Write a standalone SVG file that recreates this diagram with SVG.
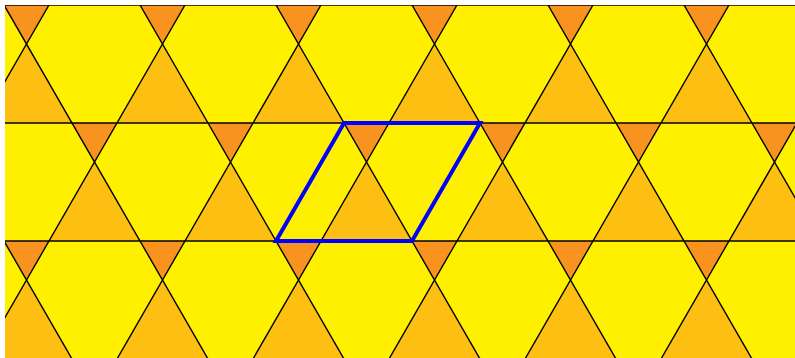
<svg xmlns="http://www.w3.org/2000/svg" width="795" height="358" viewBox="0 0 795 358">
<defs>
<style>
.hex{fill:#FFF000}
.small{fill:#F7931E}
.big{fill:#FDC012}
.ln{stroke:#000;stroke-width:1.4;fill:none}
.cell{stroke:#0000FF;stroke-width:4;fill:none;stroke-linejoin:miter}
</style>
<clipPath id="clip"><rect x="5" y="5" width="790" height="353"/></clipPath>
</defs>
<rect width="795" height="358" fill="#fff"/>
<g clip-path="url(#clip)">
<rect id="background" class="hex" x="5" y="5" width="790" height="353"/>
<g id="small-triangles" class="small">
<path d="M-132,5h45l-22.5,39z M4,5h45l-22.5,39z M140,5h45l-22.5,39z M276,5h45l-22.5,39z M412,5h45l-22.5,39z M548,5h45l-22.5,39z M684,5h45l-22.5,39z M820,5h45l-22.5,39z"/>
<path d="M-64,123h45l-22.5,39z M72,123h45l-22.5,39z M208,123h45l-22.5,39z M344,123h45l-22.5,39z M480,123h45l-22.5,39z M616,123h45l-22.5,39z M752,123h45l-22.5,39z"/>
<path d="M-132,241h45l-22.5,39z M4,241h45l-22.5,39z M140,241h45l-22.5,39z M276,241h45l-22.5,39z M412,241h45l-22.5,39z M548,241h45l-22.5,39z M684,241h45l-22.5,39z M820,241h45l-22.5,39z"/>
</g>
<g id="big-triangles" class="big">
<path d="M-109.5,44l45.5,79h-91z M26.5,44l45.5,79h-91z M162.5,44l45.5,79h-91z M298.5,44l45.5,79h-91z M434.5,44l45.5,79h-91z M570.5,44l45.5,79h-91z M706.5,44l45.5,79h-91z M842.5,44l45.5,79h-91z"/>
<path d="M-41.5,162l45.5,79h-91z M94.5,162l45.5,79h-91z M230.5,162l45.5,79h-91z M366.5,162l45.5,79h-91z M502.5,162l45.5,79h-91z M638.5,162l45.5,79h-91z M774.5,162l45.5,79h-91z"/>
<path d="M-109.5,280l45.5,79h-91z M26.5,280l45.5,79h-91z M162.5,280l45.5,79h-91z M298.5,280l45.5,79h-91z M434.5,280l45.5,79h-91z M570.5,280l45.5,79h-91z M706.5,280l45.5,79h-91z M842.5,280l45.5,79h-91z"/>
</g>
<g id="lines" class="ln">
<path d="M0,5H795 M0,123H795 M0,241H795"/>
<path d="M-132,5L72,359 M4,5L208,359 M140,5L344,359 M276,5L480,359 M412,5L616,359 M548,5L752,359 M684,5L888,359"/>
<path d="M49,5L-155,359 M185,5L-19,359 M321,5L117,359 M457,5L253,359 M593,5L389,359 M729,5L525,359 M865,5L661,359 M1001,5L797,359"/>
</g>
</g>
<g id="unit-cell">
<path class="cell" d="M344,123H480L412,241H276Z"/>
</g>
</svg>
